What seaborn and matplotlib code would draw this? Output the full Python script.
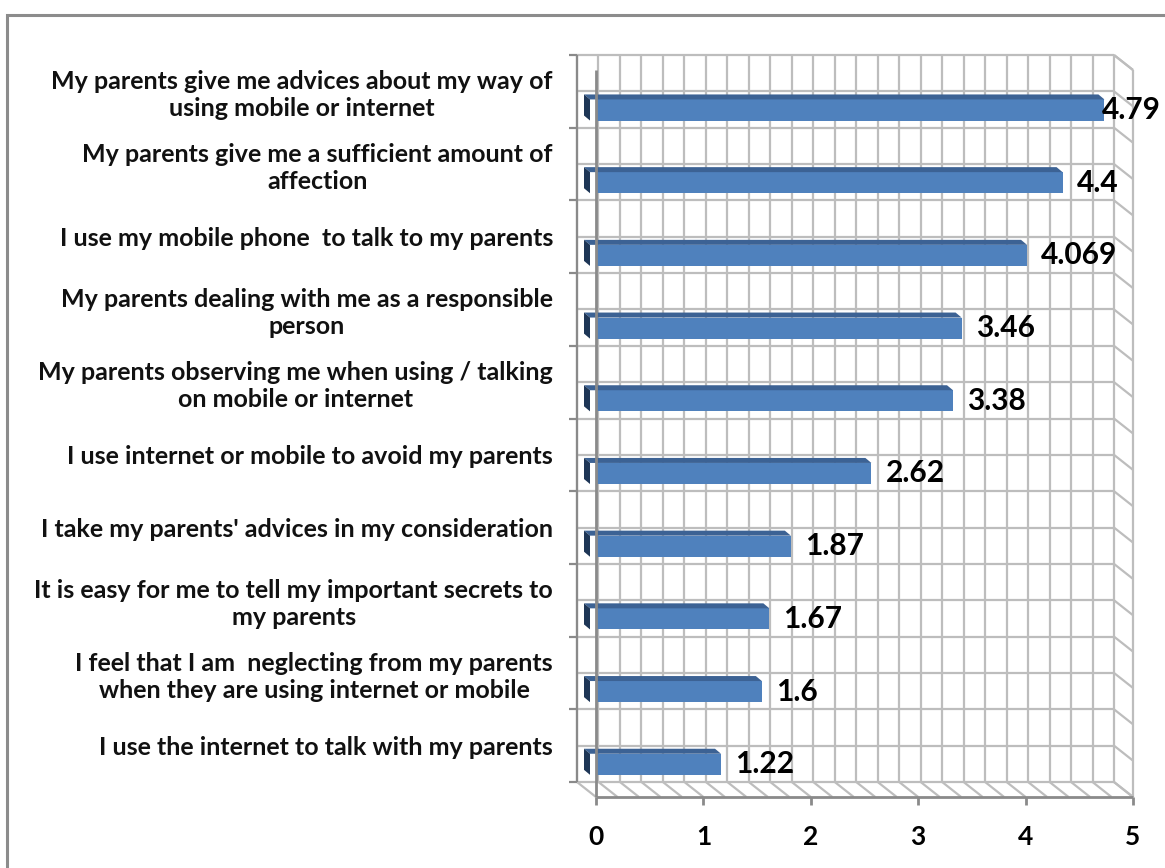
import numpy as np
import pandas as pd
import seaborn as sns
import matplotlib.pyplot as plt
import matplotlib.transforms as mtransforms
from matplotlib.patches import Polygon, Rectangle
from matplotlib.lines import Line2D

categories = [
    "My parents give me advices about my way of\nusing mobile or internet",
    "My parents give me a sufficient amount of\naffection",
    "I use my mobile phone  to talk to my parents",
    "My parents dealing with me as a responsible\nperson",
    "My parents observing me when using / talking\non mobile or internet",
    "I use internet or mobile to avoid my parents",
    "I take my parents' advices in my consideration",
    "It is easy for me to tell my important secrets to\nmy parents",
    "I feel that I am  neglecting from my parents\nwhen they are using internet or mobile",
    "I use the internet to talk with my parents",
]
values = [4.79, 4.4, 4.069, 3.46, 3.38, 2.62, 1.87, 1.67, 1.6, 1.22]
value_labels = ["4.79", "4.4", "4.069", "3.46", "3.38", "2.62", "1.87", "1.67", "1.6", "1.22"]
x_ticks = [0, 1, 2, 3, 4, 5]

W, H, DPI = 1165, 868, 100
sns.set_theme(style="white")
plt.rcParams['font.family'] = ['Lato', 'DejaVu Sans']

fig = plt.figure(figsize=(W / DPI, H / DPI), dpi=DPI)
fig.patch.set_facecolor('white')

# front plane of the 3D box (pixels): x 596..1133, y 70..797
ax = fig.add_axes([596 / W, 1 - 797 / H, 537 / W, 727 / H])
ax.set_facecolor('none')
ax.set_zorder(3)

df = pd.DataFrame({"cat": categories, "val": values})
sns.barplot(data=df, x="val", y="cat", orient="h", color="#4F81BD",
            saturation=1, width=0.29, ax=ax, zorder=5, linewidth=0)

ax.set_xlim(0, 5)
ax.set_ylim(9.45, -0.55)
for s in ax.spines.values():
    s.set_visible(False)
ax.grid(False)
ax.set_xlabel("")
ax.set_ylabel("")

# x ticks
ax.set_xticks(x_ticks)
ax.set_xticklabels([str(t) for t in x_ticks], fontsize=19, fontweight='bold', color='black')
ax.tick_params(axis='x', length=0, pad=20)

# category labels at the back-wall band centres
band_centres = np.arange(len(categories)) - 0.256
ax.set_yticks(band_centres)
ax.set_yticklabels(categories, fontsize=18, fontweight='bold', color='#111111')
ax.tick_params(axis='y', length=0, pad=31)
for lab in ax.get_yticklabels():
    lab.set_multialignment('center')
    lab.set_linespacing(1.2)

fig.canvas.draw()
T = ax.transData
dxb, dyb = -19, 15  # back plane offset in pixels (left, up)

def front(x, y):
    return T.transform((x, y))

def back(x, y):
    p = T.transform((x, y))
    return p[0] + dxb, p[1] + dyb

grid_c = '#BDBDBD'
axis_c = '#8A8A8A'
ident = mtransforms.IdentityTransform()

def line(p, q, color=grid_c, lw=1.6, z=1):
    fig.add_artist(Line2D([p[0], q[0]], [p[1], q[1]], color=color, lw=lw,
                          transform=ident, zorder=z, solid_capstyle='butt'))

y_top, y_bot = -0.55, 9.45
# back wall grid
for xv in np.arange(0, 5.0001, 0.2):
    line(back(xv, y_top), back(xv, y_bot))
for yv in np.arange(y_top, y_bot + 0.001, 0.5):
    line(back(0, yv), back(5, yv))
    # right side wall
    line(back(5, yv), front(5, yv))
# floor
for xv in np.arange(0, 5.0001, 0.2):
    line(back(xv, y_bot), front(xv, y_bot))
# outer edges
line(back(5, y_top), front(5, y_top))
line(front(5, y_top), front(5, y_bot))
line(back(0, y_top), back(0, y_bot), color=axis_c)
# category ticks on the back wall
for k in range(len(categories) + 1):
    p = back(0, y_top + k)
    line((p[0] - 8, p[1]), p, color=axis_c)
# front axes
line(front(0, y_bot), front(5, y_bot), color=axis_c, lw=2, z=8)
for xv in x_ticks:
    p = front(xv, y_bot)
    line(p, (p[0], p[1] - 8), color=axis_c, lw=2, z=8)
line(front(0, y_top), front(0, y_bot), color=axis_c, lw=2, z=8)

# 3D bar faces
bar_shift = mtransforms.ScaledTranslation(-6 / DPI, 0, fig.dpi_scale_trans)
bdx, bdy = -6, 5
for patch, v, lbl in zip(ax.patches, values, value_labels):
    patch.set_transform(ax.transData + bar_shift)
    x0, y0 = patch.get_x(), patch.get_y()
    w, h = patch.get_width(), patch.get_height()
    pa = T.transform((x0, y0))  # top-left (y inverted: y0 is top)
    pb = T.transform((x0 + w, y0 + h))
    xl, xr = pa[0] - 6, pb[0] - 6
    yt, yb = pa[1], pb[1]
    top = Polygon([(xl, yt), (xr, yt), (xr + bdx, yt + bdy), (xl + bdx, yt + bdy)],
                  closed=True, transform=ident, facecolor='#3C6294', edgecolor='none', zorder=6)
    left = Polygon([(xl, yt), (xl, yb), (xl + bdx, yb + bdy), (xl + bdx, yt + bdy)],
                   closed=True, transform=ident, facecolor='#1E3656', edgecolor='none', zorder=6)
    fig.add_artist(top)
    fig.add_artist(left)
    patch.set_zorder(7)
    # value label
    t = fig.text(xr + 14, (yt + yb) / 2, lbl, transform=ident, fontsize=21.5,
                 fontweight='bold', color='black', ha='left', va='center', zorder=9)
    fig.canvas.draw()
    bb = t.get_window_extent()
    if bb.x1 > 1161:
        t.set_position((xr + 14 - (bb.x1 - 1161), (yt + yb) / 2))

# outer chart border
fig.add_artist(Rectangle((7, -20), 1300, H - 15 + 20, transform=ident, fill=False,
                         edgecolor='#8C8C8C', lw=2.2, zorder=0))

fig.savefig("out.png", dpi=DPI, facecolor='white')
